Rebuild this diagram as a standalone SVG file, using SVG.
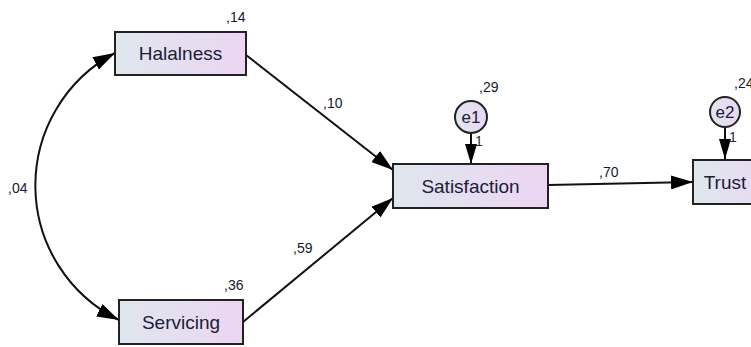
<svg xmlns="http://www.w3.org/2000/svg" width="751" height="347" viewBox="0 0 751 347">
<defs>
<linearGradient id="g" x1="0" y1="0" x2="1" y2="0">
<stop offset="0" stop-color="#dfe7ee"/>
<stop offset="1" stop-color="#ecd5f2"/>
</linearGradient>
<marker id="ah" viewBox="0 0 22 14" refX="22" refY="7" markerWidth="22" markerHeight="14" markerUnits="userSpaceOnUse" orient="auto-start-reverse">
<path d="M0,0 L22,7 L0,14 Z" fill="#000"/>
</marker>
<marker id="ahs" viewBox="0 0 20 12" refX="20" refY="6" markerWidth="20" markerHeight="12" markerUnits="userSpaceOnUse" orient="auto">
<path d="M0,0 L20,6 L0,12 Z" fill="#000"/>
</marker>
</defs>
<style>
.box{fill:url(#g);stroke:#222;stroke-width:2}
.circ{fill:url(#g);stroke:#222;stroke-width:2}
.lbl{font-family:"Liberation Sans",Arial,sans-serif;font-size:19px;fill:#1a2038;text-anchor:middle}
.elbl{font-family:"Liberation Sans",Arial,sans-serif;font-size:17px;fill:#1a2038;text-anchor:middle}
.num{font-family:"Liberation Sans",Arial,sans-serif;font-size:14px;fill:#151a2a}
.one{font-family:"Liberation Sans",Arial,sans-serif;font-size:14px;fill:#1c2a4a}
.con{fill:none;stroke:#111;stroke-width:2}
</style>
<g id="connectors">
<path class="con" d="M115,53 A150,150 0 0 0 119,320" marker-start="url(#ah)" marker-end="url(#ah)"/>
<line class="con" x1="246" y1="55" x2="393" y2="170" marker-end="url(#ah)"/>
<line class="con" x1="243" y1="322" x2="393" y2="198" marker-end="url(#ah)"/>
<line class="con" x1="548" y1="185" x2="693" y2="182" marker-end="url(#ah)"/>
<line class="con" x1="471" y1="133" x2="471" y2="164" marker-end="url(#ahs)"/>
<line class="con" x1="725" y1="128" x2="725" y2="159" marker-end="url(#ahs)"/>
<text class="num" x="8" y="193">,04</text>
<text class="num" x="323" y="108">,10</text>
<text class="num" x="293" y="253">,59</text>
<text class="num" x="599" y="177">,70</text>
<text class="one" x="475" y="146">1</text>
<text class="one" x="729" y="142">1</text>
</g>
<g id="halalness">
<rect class="box" x="115" y="32" width="131" height="43"/>
<text class="lbl" x="180.5" y="60">Halalness</text>
<text class="num" x="226" y="22">,14</text>
</g>
<g id="servicing">
<rect class="box" x="119" y="300" width="124" height="44"/>
<text class="lbl" x="181" y="329">Servicing</text>
<text class="num" x="224" y="290">,36</text>
</g>
<g id="satisfaction">
<rect class="box" x="393" y="164" width="155" height="44"/>
<text class="lbl" x="470.5" y="193">Satisfaction</text>
</g>
<g id="trust">
<rect class="box" x="693" y="160" width="100" height="44"/>
<text class="lbl" x="725" y="189">Trust</text>
</g>
<g id="e1">
<circle class="circ" cx="471" cy="117" r="16"/>
<text class="elbl" x="471" y="123">e1</text>
<text class="num" x="479" y="92">,29</text>
</g>
<g id="e2">
<circle class="circ" cx="725" cy="112" r="15"/>
<text class="elbl" x="725" y="118">e2</text>
<text class="num" x="734" y="88">,24</text>
</g>
</svg>
